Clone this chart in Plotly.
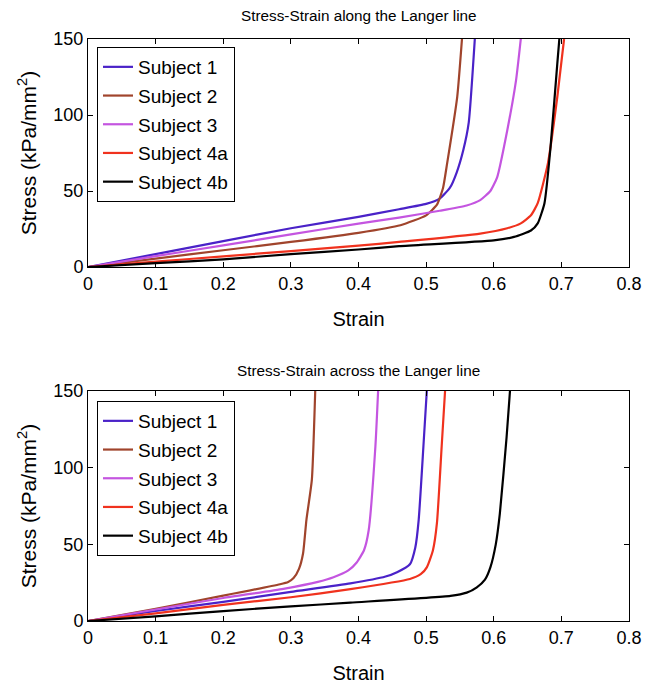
import plotly.graph_objects as go

names = ["Subject 1", "Subject 2", "Subject 3", "Subject 4a", "Subject 4b"]
colors = ["#4A22C8", "#A0442C", "#C455E0", "#F0321E", "#000000"]

# Top panel: along the Langer line
along_s1_x = [0, 0.1, 0.2, 0.3, 0.4, 0.46, 0.5, 0.52, 0.535, 0.545, 0.555, 0.563, 0.572]
along_s1_y = [0, 8.5, 17, 25.5, 33, 38, 41.5, 45, 52, 62, 77, 95, 150]
along_s2_x = [0, 0.1, 0.2, 0.3, 0.4, 0.462, 0.5, 0.516, 0.525, 0.531, 0.546, 0.553]
along_s2_y = [0, 5.5, 11, 16.5, 22.5, 27.5, 34, 41, 52, 68, 112, 150]
along_s3_x = [0, 0.1, 0.2, 0.3, 0.4, 0.46, 0.52, 0.56, 0.58, 0.595, 0.605, 0.62, 0.633, 0.64]
along_s3_y = [0, 7.2, 14.2, 21.5, 28.5, 32.5, 37, 40.5, 44, 50, 59, 90, 123, 150]
along_s4a_x = [0, 0.1, 0.2, 0.3, 0.4, 0.46, 0.58, 0.62, 0.64, 0.655, 0.665, 0.68, 0.694, 0.704]
along_s4a_y = [0, 3.5, 7, 10.5, 14, 16.5, 22, 25.5, 28.7, 34, 42, 68, 112, 150]
along_s4b_x = [0, 0.1, 0.2, 0.3, 0.4, 0.46, 0.6, 0.63, 0.655, 0.665, 0.675, 0.684, 0.694, 0.697]
along_s4b_y = [0, 2.5, 5, 8.5, 11.5, 13.7, 17.5, 19.8, 24, 28.7, 42, 79, 134, 150]

# Bottom panel: across the Langer line
across_s1_x = [0, 0.1, 0.2, 0.3, 0.388, 0.44, 0.457, 0.476, 0.484, 0.489, 0.496, 0.501]
across_s1_y = [0, 6.5, 12.5, 19, 24.5, 29, 31.8, 37, 48, 66, 114, 150]
across_s2_x = [0, 0.1, 0.2, 0.284, 0.296, 0.304, 0.312, 0.318, 0.323, 0.331, 0.336]
across_s2_y = [0, 8, 16.5, 24, 25.5, 28, 34, 44, 66, 92, 150]
across_s3_x = [0, 0.1, 0.2, 0.289, 0.34, 0.363, 0.385, 0.397, 0.408, 0.415, 0.425, 0.429]
across_s3_y = [0, 7.5, 15, 21, 25.5, 28.5, 33, 38, 46, 59, 114, 150]
across_s4a_x = [0, 0.1, 0.2, 0.3, 0.388, 0.476, 0.492, 0.501, 0.51, 0.516, 0.523, 0.528]
across_s4a_y = [0, 5, 10.5, 15.5, 20.8, 27.4, 30.5, 35, 46, 64, 114, 150]
across_s4b_x = [0, 0.1, 0.2, 0.3, 0.388, 0.536, 0.56, 0.575, 0.587, 0.595, 0.603, 0.609, 0.619, 0.624]
across_s4b_y = [0, 3, 6.5, 9.5, 12, 16.4, 18.5, 22, 27, 35, 50, 70, 120, 150]

along = [(along_s1_x, along_s1_y), (along_s2_x, along_s2_y), (along_s3_x, along_s3_y),
         (along_s4a_x, along_s4a_y), (along_s4b_x, along_s4b_y)]
across = [(across_s1_x, across_s1_y), (across_s2_x, across_s2_y), (across_s3_x, across_s3_y),
          (across_s4a_x, across_s4a_y), (across_s4b_x, across_s4b_y)]

titles = ["Stress-Strain along the Langer line", "Stress-Strain across the Langer line"]
x_ticks = [0, 0.1, 0.2, 0.3, 0.4, 0.5, 0.6, 0.7, 0.8]
y_ticks = [0, 50, 100, 150]

FONT = "Liberation Sans, Arial, sans-serif"

# The page body adds an 8 px offset, so the figure is sized to the remaining area
OFF = 8
W, H = 656 - OFF, 684 - OFF
ML, MR, MT, MB = 88 - OFF, 27, 39 - OFF, 63
PH = H - MT - MB
PW = W - ML - MR


def py(pix):
    return (H - MB - (pix - OFF)) / PH


def px(pix):
    return ((pix - OFF) - ML) / PW


fig = go.Figure()
for i, (x, y) in enumerate(along):
    fig.add_trace(go.Scatter(x=x, y=y, mode="lines", name=names[i],
                             line=dict(color=colors[i], width=2.2, shape="spline", smoothing=0.5),
                             xaxis="x", yaxis="y", legend="legend", legendgroup="a" + str(i)))
for i, (x, y) in enumerate(across):
    fig.add_trace(go.Scatter(x=x, y=y, mode="lines", name=names[i],
                             line=dict(color=colors[i], width=2.2, shape="spline", smoothing=0.5),
                             xaxis="x2", yaxis="y2", legend="legend2", legendgroup="b" + str(i)))

axis_common = dict(showline=True, linecolor="black", linewidth=1, mirror="ticks",
                   ticks="inside", ticklen=5, tickcolor="black", showgrid=False,
                   zeroline=False, automargin=False,
                   tickfont=dict(size=18, color="black", family=FONT))

xax = dict(axis_common, range=[0, 0.8], tickvals=x_ticks, domain=[0, 1],
           title=dict(text="Strain", font=dict(size=20, color="black", family=FONT), standoff=19))
yax = dict(axis_common, range=[0, 150], tickvals=y_ticks,
           title=dict(text="Stress (kPa/mm<sup>2</sup>)", font=dict(size=21, color="black", family=FONT),
                      standoff=11))

legend_common = dict(bgcolor="white", bordercolor="black", borderwidth=1,
                     font=dict(size=19, color="black", family=FONT),
                     xanchor="left", yanchor="top", traceorder="grouped", tracegroupgap=1)

fig.update_layout(
    width=W, height=H,
    margin=dict(l=ML, r=MR, t=MT, b=MB),
    paper_bgcolor="white", plot_bgcolor="white",
    font=dict(family=FONT, color="black"),
    xaxis=dict(xax, anchor="y"),
    yaxis=dict(yax, domain=[py(267), 1], anchor="x"),
    xaxis2=dict(xax, anchor="y2"),
    yaxis2=dict(yax, domain=[0, py(391)], anchor="x2"),
    legend=dict(legend_common, x=px(97), y=py(47)),
    legend2=dict(legend_common, x=px(97), y=py(401)),
    annotations=[
        dict(text=titles[0], x=0.5, y=py(16), xref="paper", yref="paper", yanchor="middle",
             showarrow=False, font=dict(size=15.3, color="black", family=FONT)),
        dict(text=titles[1], x=0.5, y=py(370), xref="paper", yref="paper", yanchor="middle",
             showarrow=False, font=dict(size=15.3, color="black", family=FONT)),
    ],
)

fig.write_html("out.html")
